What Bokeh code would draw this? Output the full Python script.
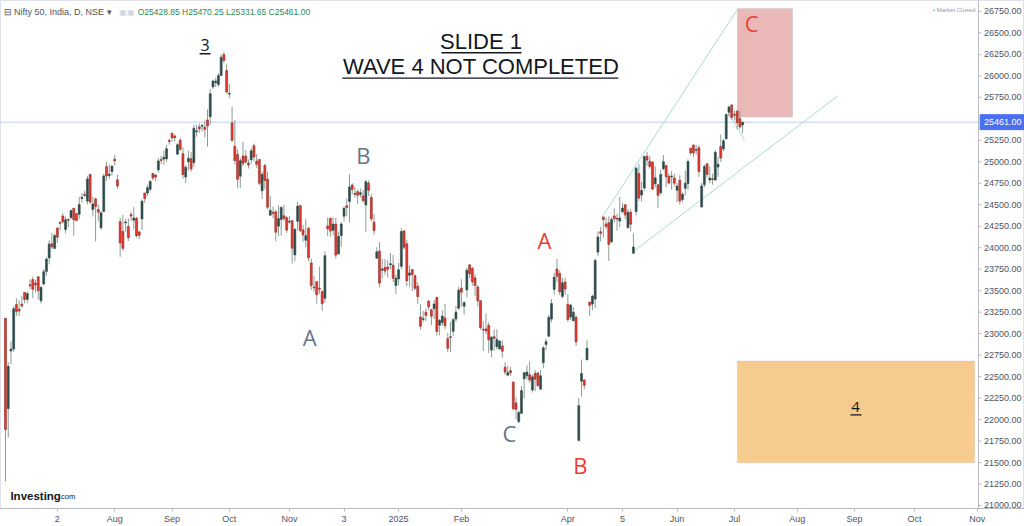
import numpy as np
from bokeh.plotting import figure
from bokeh.models import ColumnDataSource, Range1d, FixedTicker, Label, BoxAnnotation
from bokeh.core.properties import value
from bokeh.embed import file_html
from bokeh.resources import INLINE

# ---------------- daily OHLC, Nifty 50, 4 Jun 2024 .. 4 Jul 2025 (bar index = trading day) ----
open_p = [
    # Jun 2024
    23179, 22128, 22798, 22821, 23338, 23283, 23344, 23480, 23399, 23570, 23629, 23586, 23661, 23382, 23578, 23724, 23881, 24045,
    # Jul 2024
    23992, 24228, 24291, 24369, 24213, 24329, 24352, 24459, 24396, 24388, 24572, 24615, 24543, 24853, 24446, 24568, 24444, 24231, 24423, 24943, 24839, 24887,
    # Aug 2024
    25030, 24790, 24303, 24189, 24289, 24247, 24387, 24320, 24342, 24184, 24334, 24637, 24636, 24680, 24863, 24846, 24906, 25025, 25031, 25035, 25249,
    # Sep 2024
    25333, 25300, 25089, 25251, 25094, 24823, 24999, 25035, 24990, 25353, 25406, 25416, 25402, 25487, 25525, 25872, 25921, 25899, 26005, 26248, 26061,
    # Oct 2024
    25788, 25452, 25181, 25085, 24832, 25066, 25067, 24985, 25024, 25186, 25008, 25027, 24664, 24957, 24798, 24378, 24412, 24418, 24251, 24329, 24371, 24349,
    # Nov 2024
    24302, 24315, 23916, 24308, 24489, 24207, 24087, 24225, 23822, 23542, 23605, 23529, 23488, 23411, 24253, 24343, 24204, 24275, 23927,
    # Dec 2024
    24141, 24367, 24488, 24539, 24729, 24633, 24652, 24620, 24604, 24498, 24753, 24584, 24297, 23877, 23960, 23738, 23770, 23775, 23802, 23797, 23560,
    # Jan 2025
    23637, 23783, 24196, 24045, 23679, 23746, 23675, 23551, 23195, 23165, 23250, 23377, 23277, 23290, 23421, 23099, 23129, 23183, 22941, 22960, 23027, 23169, 23296,
    # Feb 2025
    23528, 23319, 23509, 23801, 23761, 23649, 23543, 23383, 23050, 23055, 23097, 22809, 22963, 22848, 22822, 22857, 22609, 22516, 22569, 22433,
    # Mar 2025
    22194, 21974, 22073, 22476, 22509, 22521, 22345, 22537, 22541, 22353, 22662, 22874, 22970, 23169, 23515, 23752, 23700, 23433, 23600,
    # Apr 2025
    23341, 23193, 23151, 23190, 21758, 22446, 22460, 22695, 23368, 23344, 23402, 23949, 24186, 24357, 24277, 24290, 24070, 24370, 24342,
    # May 2025
    24311, 24419, 24500, 24234, 24414, 23935, 24420, 24864, 24613, 24694, 25064, 25006, 24996, 24744, 24733, 24639, 24919, 24956, 24832, 24825, 24812,
    # Jun 2025
    24669, 24786, 24561, 24691, 24748, 25160, 25196, 25134, 25164, 24473, 24732, 24977, 24788, 24803, 24787, 24939, 25179, 25150, 25268, 25576, 25661,
    # Jul 2025
    25551, 25588, 25505, 25428.85,
]
high_p = [
    23179, 22670, 22910, 23320, 23411, 23389, 23441, 23481, 23490, 23630, 23664, 23624, 23668, 23558, 23754, 23889, 24087, 24174,
    24164, 24236, 24309, 24401, 24363, 24345, 24443, 24461, 24402, 24592, 24635, 24661, 24837, 24854, 24595, 24582, 24504, 24426, 24861, 24999, 24971, 24956,
    25078, 24851, 24350, 24382, 24337, 24340, 24419, 24473, 24359, 24196, 24563, 24638, 24734, 24787, 24867, 24858, 25043, 25073, 25129, 25192, 25268,
    25333, 25321, 25216, 25275, 25168, 24957, 25131, 25113, 25433, 25430, 25445, 25441, 25482, 25611, 25849, 25956, 25978, 26033, 26250, 26277, 26134,
    25908, 25639, 25485, 25143, 25044, 25234, 25134, 25028, 25159, 25212, 25093, 25029, 24886, 24978, 24882, 24604, 24480, 24440, 24492, 24484, 24499, 24372,
    24368, 24316, 24229, 24537, 24503, 24262, 24336, 24242, 23873, 23675, 23606, 23780, 23507, 23956, 24351, 24343, 24354, 24346, 24188,
    24301, 24481, 24573, 24857, 24751, 24705, 24677, 24691, 24675, 24792, 24781, 24624, 24394, 24004, 24065, 23870, 23867, 23854, 23938, 23916, 23689,
    23822, 24226, 24196, 24090, 23795, 23752, 23689, 23597, 23341, 23264, 23294, 23392, 23292, 23391, 23426, 23169, 23271, 23347, 23008, 23137, 23183, 23322, 23546,
    23633, 23381, 23763, 23807, 23773, 23695, 23568, 23390, 23144, 23235, 23133, 22974, 23049, 23050, 22923, 22923, 22668, 22625, 22613, 22450,
    22261, 22106, 22394, 22556, 22633, 22676, 22522, 22577, 22558, 22577, 22857, 22940, 23216, 23402, 23708, 23869, 23736, 23646, 23649,
    23459, 23350, 23307, 23214, 22254, 22698, 22468, 22923, 23368, 23452, 23872, 24189, 24242, 24359, 24348, 24365, 24355, 24457, 24396,
    24589, 24526, 24509, 24449, 24447, 24164, 24944, 24973, 24767, 25071, 25116, 25070, 25010, 24946, 24737, 24909, 25079, 24958, 24865, 24892, 24863,
    24754, 24845, 24644, 24899, 25029, 25160, 25199, 25197, 25196, 24754, 24967, 24982, 24947, 24863, 25136, 25057, 25317, 25266, 25565, 25654, 25669,
    25593, 25608, 25587, 25470.25,
]
low_p = [
    21281, 21791, 22642, 22789, 23207, 23206, 23295, 23353, 23353, 23520, 23412, 23480, 23398, 23350, 23562, 23674, 23806, 23985,
    23992, 24056, 24207, 24281, 24168, 24240, 24331, 24141, 24306, 24331, 24522, 24587, 24504, 24508, 24362, 24075, 24307, 24211, 24410, 24774, 24798, 24841,
    24956, 24687, 23893, 23960, 24184, 24079, 24311, 24212, 24116, 24099, 24204, 24522, 24601, 24654, 24784, 24771, 24875, 24974, 24965, 24998, 25199,
    25235, 25236, 25084, 25127, 24801, 24753, 24897, 24885, 24942, 25292, 25336, 25352, 25285, 25176, 25426, 25847, 25871, 25872, 25999, 26152, 25794,
    25739, 25230, 24967, 24694, 24694, 24947, 24979, 24921, 24979, 25008, 24929, 24728, 24567, 24679, 24445, 24378, 24342, 24073, 24135, 24140, 24307, 24172,
    24280, 23817, 23842, 24204, 24179, 24068, 24004, 23839, 23509, 23484, 23350, 23464, 23263, 23359, 24135, 24125, 24145, 23874, 23927,
    24008, 24302, 24366, 24295, 24620, 24580, 24510, 24583, 24527, 24180, 24601, 24303, 24150, 23870, 23537, 23647, 23685, 23654, 23750, 23599, 23460,
    23562, 23752, 23976, 23551, 23551, 23496, 23503, 23344, 23047, 23134, 23147, 23272, 23100, 23170, 22976, 22981, 23090, 23051, 22787, 22786, 22976, 23139, 23278,
    23318, 23222, 23423, 23645, 23556, 23443, 23316, 23046, 22798, 22992, 22775, 22725, 22801, 22814, 22812, 22720, 22518, 22513, 22508, 22105,
    22004, 21965, 22067, 22245, 22464, 22429, 22314, 22329, 22377, 22353, 22599, 22807, 22963, 23132, 23451, 23601, 23451, 23412, 23450,
    23136, 23158, 23145, 22857, 21743, 22270, 22353, 22695, 23207, 23273, 23298, 23904, 24073, 24119, 24216, 23847, 24054, 24290, 24198,
    24238, 24400, 24331, 24220, 24191, 23936, 24378, 24547, 24535, 24664, 24954, 24919, 24669, 24702, 24462, 24614, 24900, 24704, 24737, 24677, 24717,
    24526, 24502, 24530, 24613, 24672, 25077, 25055, 25082, 24825, 24473, 24703, 24813, 24750, 24733, 24784, 24824, 24999, 25125, 25259, 25523, 25490,
    25488, 25378, 25384, 25331.65,
]
close_p = [
    21884, 22620, 22821, 23290, 23259, 23264, 23323, 23398, 23466, 23557, 23516, 23567, 23501, 23538, 23721, 23868, 24044, 24010,
    24141, 24123, 24286, 24302, 24324, 24320, 24433, 24324, 24316, 24502, 24587, 24613, 24801, 24531, 24509, 24479, 24413, 24406, 24835, 24836, 24857, 24951,
    25011, 24718, 24056, 23993, 24298, 24117, 24368, 24347, 24140, 24144, 24541, 24573, 24699, 24771, 24811, 24823, 25010, 25017, 25052, 25152, 25236,
    25279, 25280, 25199, 25145, 24852, 24936, 25041, 24918, 25389, 25357, 25383, 25419, 25377, 25416, 25791, 25939, 25940, 26005, 26216, 26179, 25811,
    25797, 25250, 25015, 24796, 25013, 24982, 24998, 24964, 25128, 25057, 24971, 24750, 24854, 24781, 24472, 24435, 24399, 24181, 24339, 24467, 24341, 24205,
    24304, 23995, 24213, 24484, 24199, 24148, 24141, 23883, 23559, 23533, 23453, 23518, 23349, 23907, 24222, 24194, 24275, 23914, 24131,
    24276, 24458, 24467, 24708, 24677, 24620, 24610, 24641, 24548, 24768, 24668, 24336, 24199, 23952, 23588, 23753, 23728, 23750, 23814, 23645, 23645,
    23743, 24189, 24005, 23616, 23707, 23689, 23527, 23432, 23086, 23176, 23213, 23312, 23203, 23345, 23025, 23155, 23205, 23092, 22829, 22957, 23163, 23250, 23508,
    23482, 23361, 23739, 23696, 23603, 23560, 23381, 23072, 23045, 23031, 22929, 22959, 22945, 22933, 22913, 22796, 22553, 22547, 22545, 22125,
    22119, 22083, 22337, 22545, 22553, 22460, 22497, 22470, 22397, 22509, 22834, 22907, 23191, 23350, 23658, 23668, 23487, 23592, 23519,
    23165, 23332, 23250, 22904, 22162, 22536, 22399, 22829, 23329, 23437, 23852, 24125, 24167, 24329, 24247, 24039, 24328, 24336, 24334,
    24347, 24461, 24380, 24414, 24274, 24008, 24925, 24578, 24667, 25062, 25020, 24945, 24684, 24813, 24610, 24853, 25001, 24826, 24752, 24834, 24751,
    24717, 24543, 24621, 24751, 25003, 25103, 25104, 25141, 24888, 24719, 24946, 24853, 24812, 24793, 25112, 24972, 25044, 25245, 25549, 25637, 25517,
    25542, 25453, 25405, 25461.00,
]

# ---------------- axes ----------------
price_ticks = [21000, 21250, 21500, 21750, 22000, 22250, 22500, 22750, 23000, 23250, 23500,
               23750, 24000, 24250, 24500, 24750, 25000, 25250, 25750, 26000, 26250, 26500, 26750]
date_tick_bars = [19, 40, 61, 82, 104, 124, 144, 167, 206, 226, 246, 267, 290, 311, 333, 356]
date_tick_labels = ["2", "Aug", "Sep", "Oct", "Nov", "3", "2025", "Feb", "Apr", "5", "Jun", "Jul",
                    "Aug", "Sep", "Oct", "Nov"]
last_price = 25461.00

# ---------------- drawings (bar index, price) ----------------
wave_text = ["3", "B", "A", "C", "A", "B", "C", "4"]
wave_x = [73.1, 131.1, 111.4, 184.6, 197.4, 210.6, 273.3, 311.4]
wave_y = [26356, 25081, 22959, 21846, 24095, 21475, 26611, 22148]
wave_color = ["#131722", "#65748b", "#65748b", "#65748b", "#ea3b2e", "#ea3b2e", "#e2453a", "#131722"]
wave_size = ["16px", "22px", "22px", "22px", "22px", "22px", "22px", "15px"]

title_text = ["SLIDE 1", "WAVE 4 NOT COMPLETED"]
title_x = [174.2, 174.2]
title_y = [26402, 26112]

underline_x0 = [159.7, 123.4, 71.1, 309.5]
underline_x1 = [189.0, 224.5, 75.1, 313.6]
underline_y = [26269, 25973, 26257, 22055]

trend_x0 = [218.6, 230.0, 264.8]
trend_y0 = [24359, 23956, 25568]
trend_x1 = [268.1, 304.8, 270.7]
trend_y1 = [26773, 25765, 25254]

box_c = dict(left=268.1, right=288.3, bottom=25521, top=26785)
box_4 = dict(left=268.1, right=355.0, bottom=21498, top=22681)

# ---------------- layout ----------------
W, H = 1024, 526
PX_PER_BAR = 2.73          # horizontal scale of the chart
PRICE_PER_PX = 11.593      # vertical scale of the chart
X_START = -1.83
X_END = X_START + W / PX_PER_BAR        # frame spans the full width
AXIS_X = X_START + 978 / PX_PER_BAR     # price-scale line
Y_START, Y_END = 20965, 26877

p = figure(width=W, height=H, x_range=Range1d(X_START, X_END), y_range=Range1d(Y_START, Y_END),
           y_axis_location=None, toolbar_location=None, output_backend="svg",
           min_border_left=0, min_border_top=0, min_border_right=0, min_border_bottom=16,
           background_fill_color="white", border_fill_color="white")
p.grid.visible = False
p.outline_line_color = "#e0e3eb"

# boxes (behind candles)
p.add_layout(BoxAnnotation(**box_c, fill_color="#e39a9a", fill_alpha=0.7,
                           line_color="#aab2cc", line_width=1, level="underlay"))
p.add_layout(BoxAnnotation(**box_4, fill_color="#f3c27a", fill_alpha=0.85,
                           line_color="#c9b9a8", line_width=1, level="underlay"))

# last price line
p.segment(x0=[X_START], y0=[last_price], x1=[AXIS_X], y1=[last_price],
          line_color="#c3cff2", line_width=1)

# trend lines
p.segment(x0=trend_x0, y0=trend_y0, x1=trend_x1, y1=trend_y1, line_color="#a9dcd3", line_width=1)

# candles
o = np.array(open_p, float); h = np.array(high_p, float)
l = np.array(low_p, float); c = np.array(close_p, float)
idx = np.arange(len(c))
top = np.maximum(o, c); bot = np.minimum(o, c)
mid = (top + bot) / 2
thin = (top - bot) < 10
top = np.where(thin, mid + 5, top)
bot = np.where(thin, mid - 5, bot)
up = c >= o
for mask, fill, edge in [(up, "#2e4b4a", "#2e4b4a"), (~up, "#e8392f", "#8e2a22")]:
    src = ColumnDataSource(dict(x=idx[mask], h=h[mask], l=l[mask], top=top[mask], bot=bot[mask]))
    p.segment(x0="x", y0="l", x1="x", y1="h", source=src, line_color="#8d9c97", line_width=1)
    p.vbar(x="x", width=0.72, top="top", bottom="bot", source=src,
           fill_color=fill, line_color=edge, line_width=0.6)

# texts
for t, x, y in zip(title_text, title_x, title_y):
    p.add_layout(Label(x=x, y=y, text=t, text_align="center", text_baseline="middle",
                       text_font="Liberation Sans", text_font_size="22px", text_color="#131722"))
for t, x, y, col, sz in zip(wave_text, wave_x, wave_y, wave_color, wave_size):
    p.add_layout(Label(x=x, y=y, text=t, text_align="center", text_baseline="middle",
                       text_font="Open Sans", text_font_size=sz, text_color=col))
p.segment(x0=underline_x0, y0=underline_y, x1=underline_x1, y1=underline_y,
          line_color="#131722", line_width=1.3)

# legend header
p.add_layout(Label(x=-0.7, y=26738, text="⊟ Nifty 50, India, D, NSE ▾", text_baseline="middle",
                   text_font="Liberation Sans", text_font_size="9px", text_color="#50535e"))
p.add_layout(Label(x=41.7, y=26738, text="▣▣", text_baseline="middle",
                   text_font="DejaVu Sans", text_font_size="8px", text_color="#d1d4dc"))
p.add_layout(Label(x=48.4, y=26738, text="O25428.85  H25470.25  L25331.65  C25461.00",
                   text_baseline="middle", text_font="Liberation Sans",
                   text_font_size="8.5px", text_color="#1e8a5a"))
p.add_layout(Label(x=355.3, y=26762, text="• Market Closed", text_align="right",
                   text_baseline="middle", text_font="Liberation Sans",
                   text_font_size="6px", text_color="#9598a1"))
p.add_layout(Label(x=1.8, y=21116, text="Investing", text_baseline="middle",
                   text_font="Liberation Sans", text_font_style="bold",
                   text_font_size="11.5px", text_color="#131722"))
p.add_layout(Label(x=19.6, y=21102, text=".com", text_baseline="middle",
                   text_font="Liberation Sans", text_font_size="7.5px", text_color="#131722"))

# ---------------- price scale (drawn at the right edge of the chart) ----------------
AX_GRAY = "#b8bbc4"
p.segment(x0=[AXIS_X], y0=[Y_START], x1=[AXIS_X], y1=[Y_END], line_color=AX_GRAY, line_width=1)
tick_len = 3 / PX_PER_BAR
p.segment(x0=[AXIS_X] * len(price_ticks), y0=price_ticks,
          x1=[AXIS_X + tick_len] * len(price_ticks), y1=price_ticks,
          line_color=AX_GRAY, line_width=1)
label_x = AXIS_X + 5.5 / PX_PER_BAR
p.text(x=[label_x] * len(price_ticks), y=price_ticks, text=[f"{t:.2f}" for t in price_ticks],
       text_baseline="middle", text_align="left", text_font=value("Liberation Sans"),
       text_font_size="9px", text_color="#50535e")
# last-price tag
half_h = 7.5 * PRICE_PER_PX
p.quad(left=[AXIS_X + 0.6], right=[X_END], bottom=[last_price - half_h], top=[last_price + half_h],
       fill_color="#4c6ef0", line_color="#4c6ef0")
p.text(x=[label_x], y=[last_price], text=[f"{last_price:.2f}"], text_baseline="middle",
       text_align="left", text_font=value("Liberation Sans"), text_font_size="9px",
       text_color="white")

# ---------------- time axis ----------------
xax = p.xaxis[0]
xax.ticker = FixedTicker(ticks=date_tick_bars)
xax.major_label_overrides = {b: s for b, s in zip(date_tick_bars, date_tick_labels)}
xax.major_label_text_font = "Liberation Sans"
xax.major_label_text_font_size = "9px"
xax.major_label_text_color = "#50535e"
xax.axis_line_color = AX_GRAY
xax.major_tick_line_color = AX_GRAY
xax.major_tick_in = 0
xax.major_tick_out = 3
xax.minor_tick_line_color = None
xax.major_label_standoff = 2

open("out.html", "w").write(file_html(p, INLINE))
